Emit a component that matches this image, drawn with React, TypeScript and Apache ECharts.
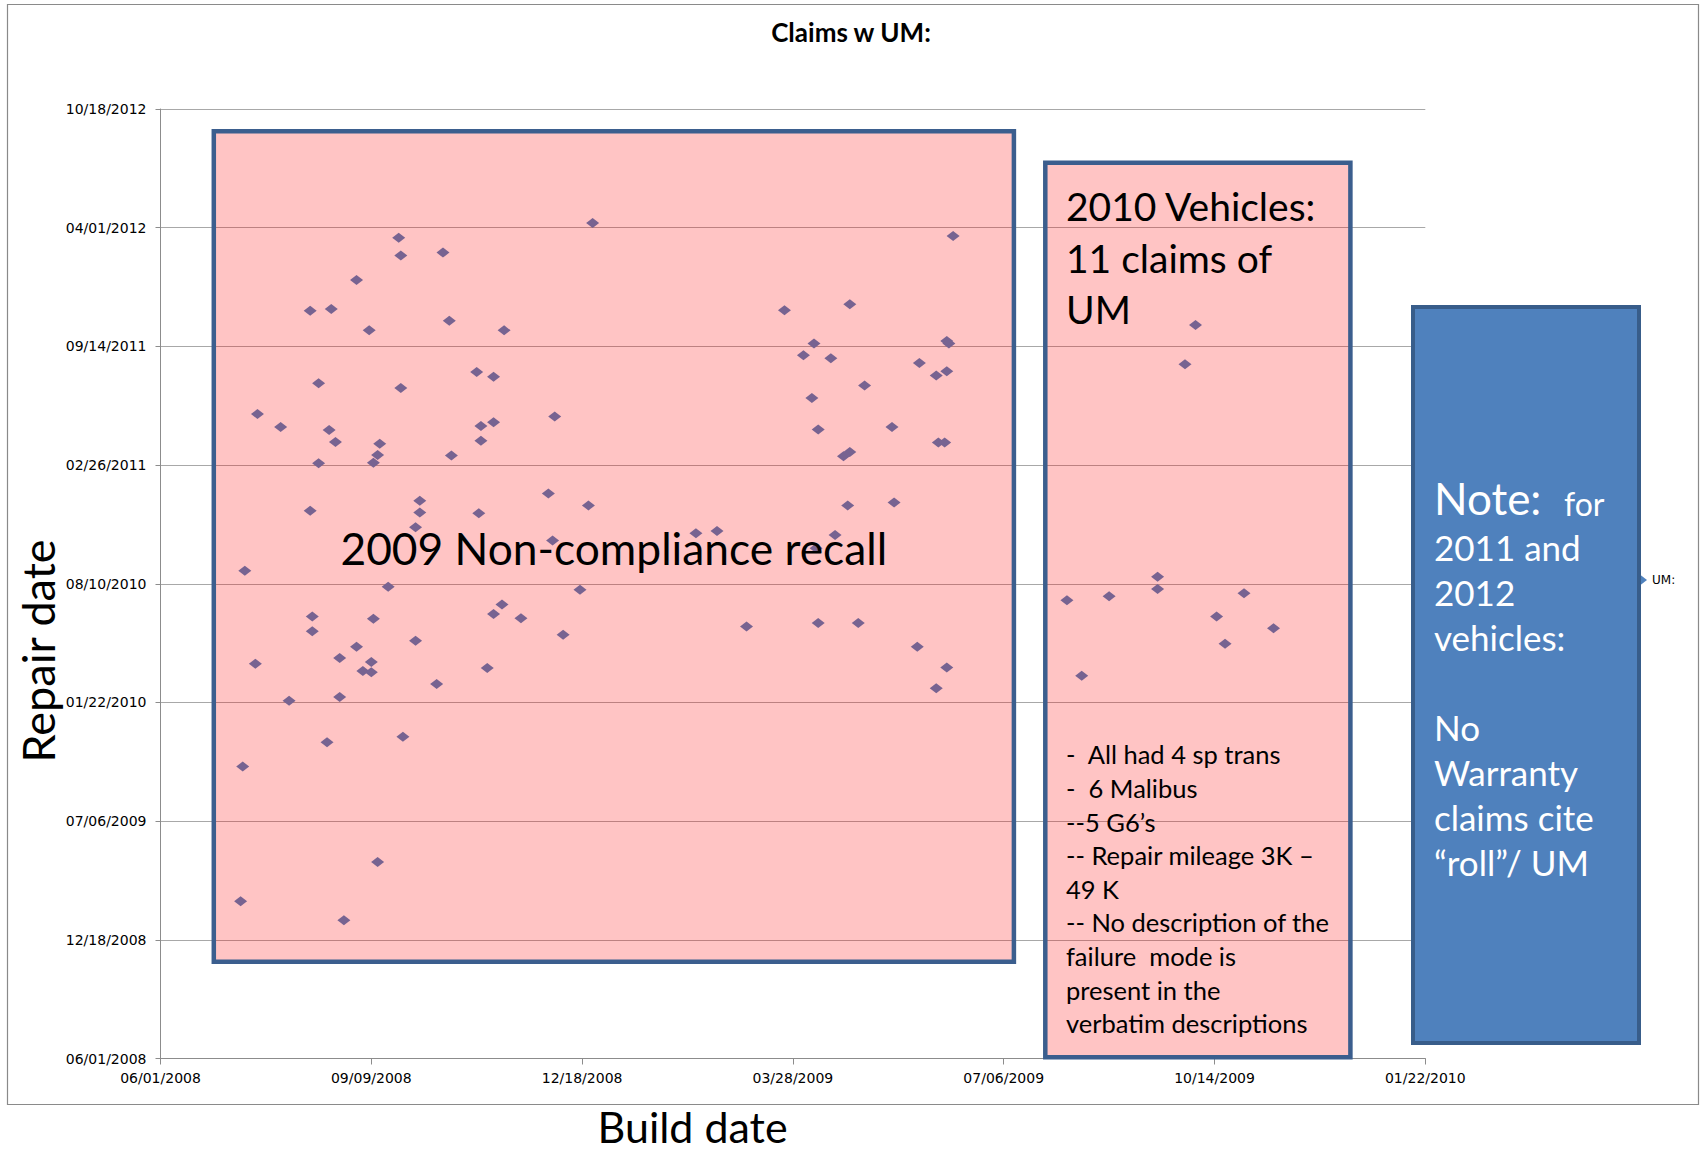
import React, { useEffect, useRef } from "react";
import * as echarts from "echarts";

// All values are days counted from 06/01/2008 (the axes' origin).
const BASE_DATE = Date.UTC(2008, 5, 1);
const DAY_MS = 86400000;

const xMinDays = 0;
const xMaxDays = 600;
const xStepDays = 100;
const yMinDays = 0;
const yMaxDays = 1600;
const yStepDays = 200;

// 2009 vehicles (non-compliance recall box): build date / repair date
const build2009 = [
  205, 113, 114, 134, 93, 71, 81, 99, 137, 163, 150, 158, 75, 114, 46, 57, 80, 83, 104, 152, 158, 152, 187, 75, 103,
  101, 138, 184, 203, 71, 123, 123, 121, 151, 186,
  40, 108, 199, 72, 72, 101, 162, 158, 171, 191, 121, 93, 85, 45, 100, 96, 100, 155, 131, 61, 85, 79, 115, 39, 103,
  38, 87,
  376, 296, 327, 310, 374, 373, 305, 318, 360, 368, 373, 334, 309, 312, 347, 369, 372, 324, 327, 326, 348, 254, 264,
  320, 311,
  278, 312, 331, 359, 373, 368,
];
const repair2009 = [
  1408, 1383, 1353, 1358, 1312, 1260, 1263, 1227, 1243, 1227, 1157, 1149, 1138, 1130, 1086, 1064, 1059, 1039, 1036,
  1066, 1072, 1041, 1082, 1003, 1017, 1004, 1016, 952, 932, 923, 940, 920, 895, 919, 873,
  822, 795, 790, 745, 720, 741, 765, 749, 742, 714, 704, 694, 675, 665, 668, 653, 651, 658, 631, 603, 609, 533, 542,
  492, 331, 265, 233,
  1386, 1261, 1271, 1205, 1205, 1209, 1185, 1180, 1172, 1151, 1158, 1134, 1113, 1060, 1064, 1038, 1038, 1015, 1022,
  932, 937, 885, 889, 882, 860,
  728, 734, 734, 694, 659, 624,
];

// 2010 vehicles: 11 claims of UM
const build2010 = [491, 486, 473, 473, 430, 450, 514, 501, 528, 505, 437];
const repair2010 = [1236, 1170, 812, 791, 772, 779, 784, 745, 725, 699, 645];

const seriesName = "UM:";
const chartTitle = "Claims w UM:";
const xTitle = "Build date";
const yTitle = "Repair date";
const recallLabel = "2009 Non-compliance recall";
const vehicles2010Title = ["2010 Vehicles:", "11 claims of", "UM"];
const vehicles2010Notes = [
  "-  All had 4 sp trans",
  "-  6 Malibus",
  "--5 G6\u2019s",
  "-- Repair mileage 3K \u2013",
  "49 K",
  "-- No description of the",
  "failure  mode is",
  "present in the",
  "verbatim descriptions",
];
const noteHead = "Note:";
const noteHeadTail = "for";
const noteLines = ["2011 and", "2012", "vehicles:", "", "No", "Warranty", "claims cite", "\u201croll\u201d/ UM"];

function fmtDate(v: number): string {
  const d = new Date(BASE_DATE + v * DAY_MS);
  const mm = String(d.getUTCMonth() + 1).padStart(2, "0");
  const dd = String(d.getUTCDate()).padStart(2, "0");
  return `${mm}/${dd}/${d.getUTCFullYear()}`;
}

const CAL = "Lato, 'Open Sans', sans-serif";

function txt(x: number, y: number, text: string, o: any = {}) {
  const align = o.align || "left";
  const valign = o.valign || "middle";
  return {
    type: "text",
    x,
    y,
    rotation: o.rotation || 0,
    z: 20,
    silent: true,
    style: {
      text,
      fill: o.fill || "#000",
      fontSize: o.size || 20,
      fontFamily: o.family || CAL,
      fontWeight: o.weight || "normal",
      lineHeight: o.lineHeight,
      align,
      verticalAlign: valign,
      textAlign: align,
      textVerticalAlign: valign,
    },
  };
}

export default function App() {
  const ref = useRef<HTMLDivElement>(null);
  useEffect(() => {
    document.body.style.margin = "0";
    const chart = echarts.init(ref.current!, null, { renderer: "svg" });
    const data: number[][] = [];
    build2009.forEach((b, i) => data.push([b, repair2009[i]]));
    build2010.forEach((b, i) => data.push([b, repair2010[i]]));

    const axisLabel = {
      fontFamily: "'DejaVu Sans', Verdana, sans-serif",
      fontSize: 14,
      color: "#000",
      formatter: (v: number) => fmtDate(v),
    };

    chart.setOption({
      animation: false,
      backgroundColor: "#fff",
      grid: {
        left: 160.5,
        top: 109,
        right: 1702 - 1425.3,
        bottom: 1151 - 1058.5,
        containLabel: false,
        outerBoundsMode: "none",
      },
      legend: {
        data: [seriesName],
        left: 1629,
        top: 569,
        itemWidth: 13,
        itemHeight: 10,
        itemGap: 5,
        icon: "diamond",
        textStyle: { fontSize: 12, fontFamily: "'DejaVu Sans', sans-serif", color: "#000" },
      },
      xAxis: {
        type: "value",
        min: xMinDays,
        max: xMaxDays,
        interval: xStepDays,
        splitLine: { show: false },
        axisLine: { show: true, onZero: false, lineStyle: { color: "#8c8c8c", width: 1 } },
        axisTick: { show: true, length: 6, lineStyle: { color: "#8c8c8c" } },
        axisLabel: { ...axisLabel, margin: 12 },
      },
      yAxis: {
        type: "value",
        min: yMinDays,
        max: yMaxDays,
        interval: yStepDays,
        splitLine: { show: true, lineStyle: { color: "#a8a8a8", width: 1 } },
        axisLine: { show: true, onZero: false, lineStyle: { color: "#8c8c8c", width: 1 } },
        axisTick: { show: true, length: 5, lineStyle: { color: "#8c8c8c" } },
        axisLabel: { ...axisLabel, margin: 14 },
      },
      series: [
        {
          name: seriesName,
          type: "scatter",
          symbol: "diamond",
          symbolSize: [13, 10],
          itemStyle: { color: "#4F81BD", opacity: 1 },
          data,
          z: 2,
        },
      ],
      graphic: [
        {
          type: "rect",
          z: 0,
          silent: true,
          shape: { x: 7.5, y: 4.5, width: 1691, height: 1100 },
          style: { fill: "none", stroke: "#8a8a8a", lineWidth: 1.2 },
        },
        {
          type: "rect",
          z: 10,
          silent: true,
          shape: { x: 213.8, y: 131.3, width: 800.1, height: 830.5 },
          style: { fill: "rgba(255,0,0,0.23)", stroke: "#3B5E8E", lineWidth: 4.5 },
        },
        {
          type: "rect",
          z: 10,
          silent: true,
          shape: { x: 1045.3, y: 162.8, width: 305.1, height: 894.5 },
          style: { fill: "rgba(255,0,0,0.23)", stroke: "#3B5E8E", lineWidth: 4.5 },
        },
        {
          type: "rect",
          z: 10,
          silent: true,
          shape: { x: 1413, y: 307, width: 226, height: 736 },
          style: { fill: "#4F81BD", stroke: "#385D8A", lineWidth: 4 },
        },
        txt(851, 31.5, chartTitle, { size: 26, weight: "bold", align: "center" }),
        txt(692.6, 1126, xTitle, { size: 43, align: "center" }),
        txt(38, 651, yTitle, { size: 45, align: "center", rotation: Math.PI / 2 }),
        txt(613.8, 547, recallLabel, { size: 44.3, align: "center" }),
        txt(1066, 180.4, vehicles2010Title.join("\n"), { size: 39, valign: "top", lineHeight: 51.6 }),
        txt(1066, 737.6, vehicles2010Notes.join("\n"), { size: 25.5, valign: "top", lineHeight: 33.6 }),
        txt(1434, 498, noteHead, { size: 44, fill: "#fff" }),
        txt(1564, 503, noteHeadTail, { size: 32, fill: "#fff" }),
        txt(1434, 524.5, noteLines.join("\n"), { size: 35, fill: "#fff", valign: "top", lineHeight: 45 }),
      ],
    });
    return () => chart.dispose();
  }, []);
  return <div ref={ref} style={{ width: 1702, height: 1151 }} />;
}
